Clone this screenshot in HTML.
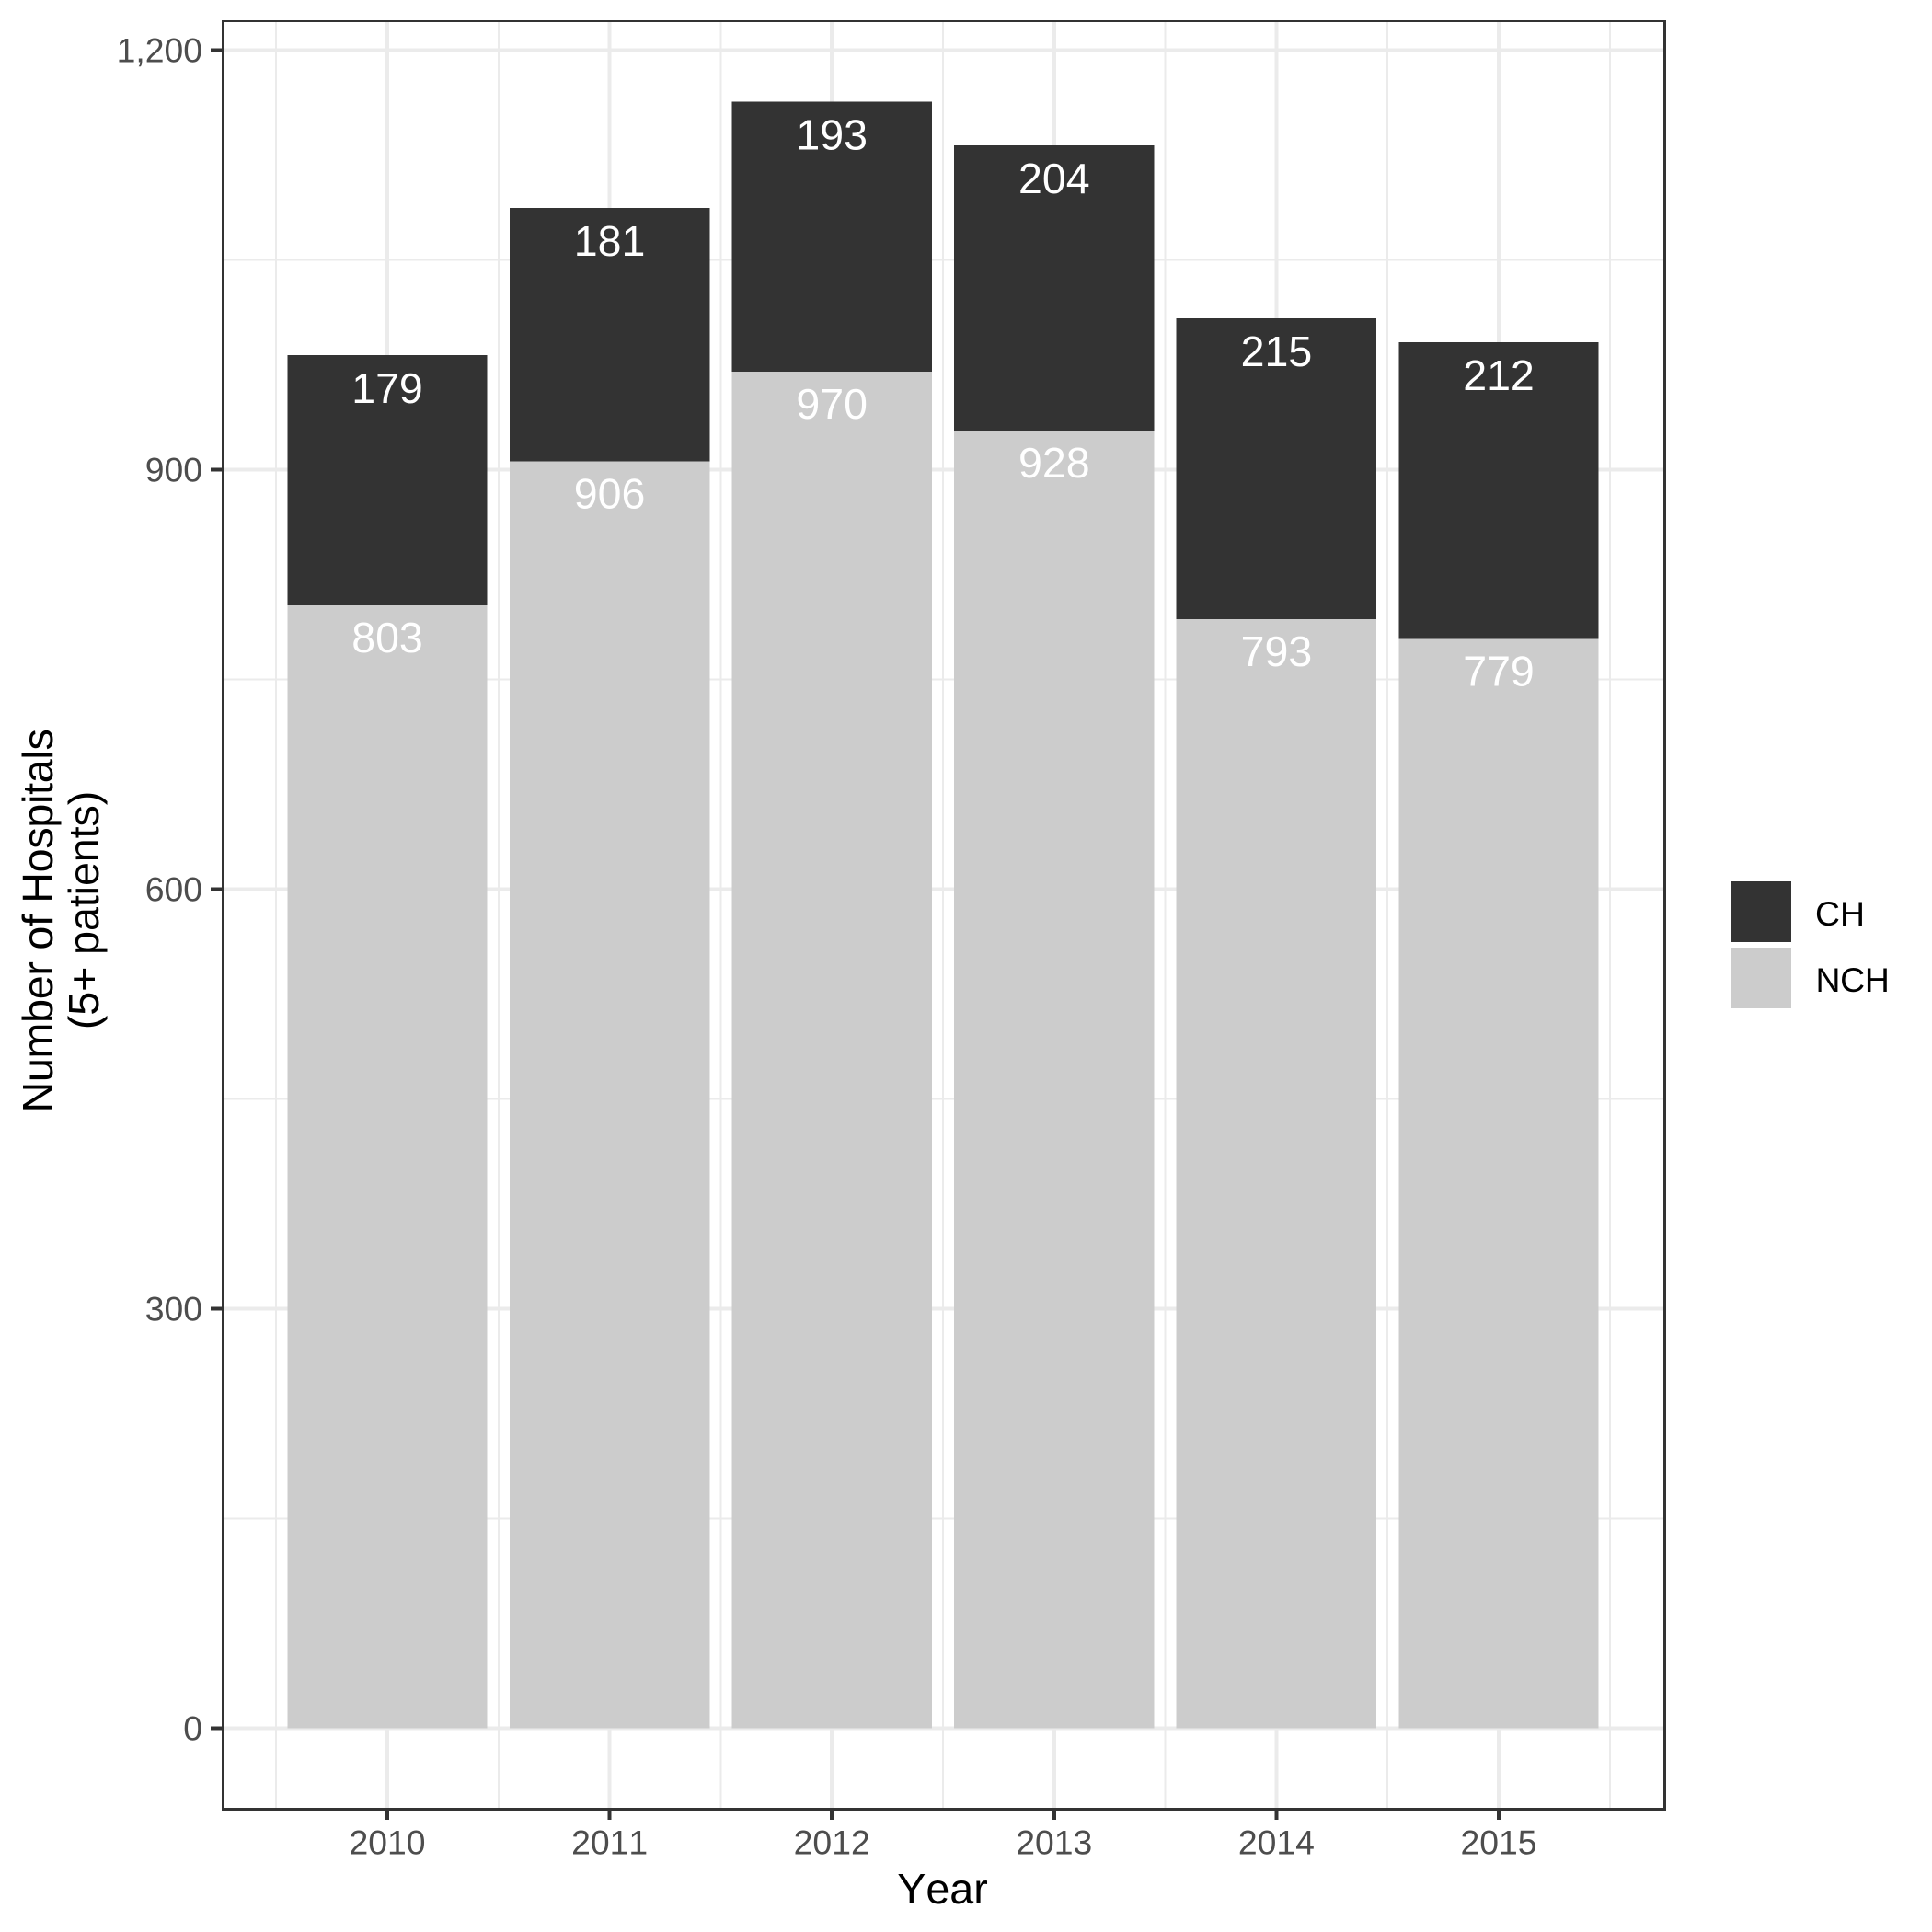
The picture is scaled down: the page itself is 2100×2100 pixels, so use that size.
<!DOCTYPE html>
<html>
<head>
<meta charset="utf-8">
<title>Number of Hospitals by Year</title>
<style>
html,body{margin:0;padding:0;background:#fff;width:2100px;height:2100px;overflow:hidden}
svg{display:block}
text{font-family:"Liberation Sans",Arial,sans-serif;font-kerning:none}
rect,line{shape-rendering:crispEdges}
</style>
</head>
<body>
<svg id="chart" xmlns="http://www.w3.org/2000/svg" width="2100" height="2100" viewBox="0 0 2100 2100"></svg>
<script>
const years = [2010, 2011, 2012, 2013, 2014, 2015];
const nchValues = [803, 906, 970, 928, 793, 779];
const chValues = [179, 181, 193, 204, 215, 212];
const yTickValues = [0, 300, 600, 900, 1200];
const yTickLabels = ['0', '300', '600', '900', '1,200'];
const yMinorValues = [150, 450, 750, 1050];
const xMinorValues = [2009.5, 2010.5, 2011.5, 2012.5, 2013.5, 2014.5, 2015.5];

const panel = { left: 242, right: 1809.5, top: 23, bottom: 1966 };
const barWidthUnits = 0.9;
const chLabelOffset = 52;
const nchLabelOffset = 51;

function xScale(v) { return 421 + (v - 2010) * 241.6; }
function yScale(v) { return 1878.4 - v * 1.52; }

const svg = document.getElementById('chart');
const NS = 'http://www.w3.org/2000/svg';

function make(tag, attrs, parent) {
  const el = document.createElementNS(NS, tag);
  for (const k in attrs) el.setAttribute(k, attrs[k]);
  (parent || svg).appendChild(el);
  return el;
}
function label(str, attrs) {
  const el = make('text', attrs);
  el.textContent = str;
  return el;
}

let el;

el = make('rect', { x: panel.left, y: panel.top, width: panel.right - panel.left, height: panel.bottom - panel.top, fill: '#ffffff' });



yMinorValues.forEach(function (v) {
  const g = make('line', { x1: panel.left, x2: panel.right, y1: yScale(v), y2: yScale(v), stroke: '#ebebeb', 'stroke-width': 2 });
  
  
});
xMinorValues.forEach(function (v) {
  const g = make('line', { x1: xScale(v), x2: xScale(v), y1: panel.top, y2: panel.bottom, stroke: '#ebebeb', 'stroke-width': 2 });
  
  
});
yTickValues.forEach(function (v) {
  const g = make('line', { x1: panel.left, x2: panel.right, y1: yScale(v), y2: yScale(v), stroke: '#ebebeb', 'stroke-width': 4 });
  
  
});
years.forEach(function (v) {
  const g = make('line', { x1: xScale(v), x2: xScale(v), y1: panel.top, y2: panel.bottom, stroke: '#ebebeb', 'stroke-width': 4 });
  
  
});

years.forEach(function (year, i) {
  const x = xScale(year - barWidthUnits / 2);
  const w = xScale(year + barWidthUnits / 2) - x;
  const nchTop = yScale(nchValues[i]);
  const chTop = yScale(nchValues[i] + chValues[i]);

  const nch = make('rect', { x: x, y: nchTop, width: w, height: yScale(0) - nchTop, fill: '#cccccc' });
  
  

  const ch = make('rect', { x: x, y: chTop, width: w, height: nchTop - chTop, fill: '#333333' });
  
  

  const nchLabel = label(String(nchValues[i]), { x: xScale(year), y: nchTop + nchLabelOffset, 'text-anchor': 'middle', 'font-size': 46.5, fill: '#ffffff' });
  
  

  const chLabel = label(String(chValues[i]), { x: xScale(year), y: chTop + chLabelOffset, 'text-anchor': 'middle', 'font-size': 46.5, fill: '#ffffff' });
  
  
});

el = make('rect', { x: 241, y: 22, width: 2, height: 1946, fill: '#333333' });



el = make('rect', { x: 1808, y: 22, width: 3, height: 1946, fill: '#333333' });



el = make('rect', { x: 241, y: 22, width: 1570, height: 2, fill: '#333333' });



el = make('rect', { x: 241, y: 1965, width: 1570, height: 3, fill: '#333333' });



yTickValues.forEach(function (v, i) {
  const t = make('line', { x1: 229, x2: panel.left, y1: yScale(v), y2: yScale(v), stroke: '#333333', 'stroke-width': 4 });
  
  
  const l = label(yTickLabels[i], { x: 220, y: yScale(v) + 13, 'text-anchor': 'end', 'font-size': 37.33, fill: '#4d4d4d' });
  
  
});

years.forEach(function (year) {
  const t = make('line', { x1: xScale(year), x2: xScale(year), y1: panel.bottom, y2: panel.bottom + 12, stroke: '#333333', 'stroke-width': 4 });
  
  
  const l = label(String(year), { x: xScale(year), y: 2015.7, 'text-anchor': 'middle', 'font-size': 37.33, fill: '#4d4d4d' });
  
  
});

el = label('Year', { x: 1024.5, y: 2069, 'text-anchor': 'middle', 'font-size': 46.67, fill: '#000000' });



el = label('Number of Hospitals', { transform: 'translate(57 1001) rotate(-90)', 'text-anchor': 'middle', 'font-size': 46.67, 'letter-spacing': '-0.3', fill: '#000000' });



el = label('(5+ patients)', { transform: 'translate(107 989.5) rotate(-90)', 'text-anchor': 'middle', 'font-size': 46.67, 'letter-spacing': '-0.1', fill: '#000000' });



el = make('rect', { x: 1881, y: 958, width: 66, height: 66, fill: '#333333' });



el = make('rect', { x: 1881, y: 1030, width: 66, height: 66, fill: '#cccccc' });



el = label('CH', { x: 1973, y: 1006, 'font-size': 37.33, fill: '#000000' });



el = label('NCH', { x: 1973.5, y: 1078, 'font-size': 37.33, 'letter-spacing': '-0.3', fill: '#000000' });


</script>
</body>
</html>
